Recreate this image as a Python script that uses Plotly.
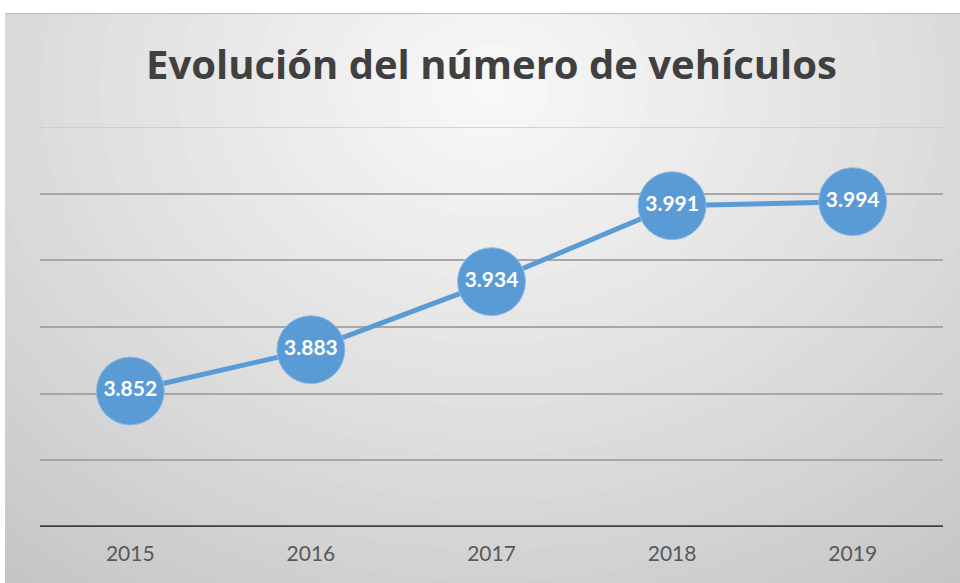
import plotly.graph_objects as go

years = ["2015", "2016", "2017", "2018", "2019"]
vehicles = [3852, 3883, 3934, 3991, 3994]
title_text = "Evolución del número de vehículos"

W, H = 960, 583
L, R, T, B = 40, 17, 127, 56
pw, ph = W - L - R, H - T - B

def px(X):
    return (X - L) / pw

def py(Y):
    return (H - B - Y) / ph

def mix(c1, c2, t):
    return "rgb(%d,%d,%d)" % tuple(round(a + (b - a) * t) for a, b in zip(c1, c2))

shapes = []
shapes.append(dict(type="rect", xref="paper", yref="paper", x0=px(5), x1=px(960), y0=py(583), y1=py(13),
                   fillcolor="rgb(196,196,196)", line=dict(width=0), layer="below"))
cx, cy = 490, 90
outer = (196, 196, 196)
inner = (248, 248, 248)
N = 40
for i in range(N):
    t = i / (N - 1)
    rx = 760 * (1 - t) + 20
    ry = 620 * (1 - t) + 15
    shapes.append(dict(type="circle", xref="paper", yref="paper",
                       x0=px(cx - rx), x1=px(cx + rx), y0=py(cy + ry), y1=py(cy - ry),
                       fillcolor=mix(outer, inner, t ** 0.9), line=dict(width=0), layer="below"))
shapes.append(dict(type="rect", xref="paper", yref="paper", x0=px(-50), x1=px(1010), y0=py(13), y1=py(-200),
                   fillcolor="white", line=dict(width=0), layer="below"))
shapes.append(dict(type="rect", xref="paper", yref="paper", x0=px(-50), x1=px(5), y0=py(700), y1=py(-200),
                   fillcolor="white", line=dict(width=0), layer="below"))
shapes.append(dict(type="line", xref="paper", yref="paper", x0=px(5), x1=px(960), y0=py(13.5), y1=py(13.5),
                   line=dict(color="rgb(185,185,185)", width=1), layer="below"))

y_min, y_max, y_step = 3750, 4050, 50

fig = go.Figure()
fig.add_trace(go.Scatter(
    x=years, y=vehicles, mode="lines+markers+text",
    line=dict(color="#5B9BD5", width=5),
    marker=dict(size=68, color="#5B9BD5", line=dict(color="#8fbbe6", width=1)),
    texttemplate="%{y:,.0f}", textposition="middle center",
    textfont=dict(family="Lato", size=21, color="white", weight="bold"),
    cliponaxis=False, hoverinfo="skip",
))

fig.update_layout(
    width=W, height=H,
    margin=dict(l=L, r=R, t=T, b=B),
    paper_bgcolor="white", plot_bgcolor="rgba(0,0,0,0)",
    separators=",.",
    showlegend=False,
    shapes=shapes,
    title=dict(text=title_text, x=0.5, xref="paper", xanchor="center",
               y=1 - 65 / H, yanchor="middle",
               font=dict(family="Open Sans", size=40, color="#404040", weight="bold")),
    xaxis=dict(range=[-0.5, 4.5], showgrid=False, zeroline=False, showline=False, ticks="",
               tickfont=dict(family="Lato", size=21, color="#595959"), ticklabelstandoff=12),
    yaxis=dict(range=[y_min, y_max], dtick=y_step, tick0=y_min, showgrid=True, gridcolor="#a6a6a6", gridwidth=1.5,
               showticklabels=False, zeroline=False, showline=False, ticks=""),
)
# top gridline (plotly omits the one on the plot edge)
fig.add_shape(type="line", xref="paper", yref="y", x0=0, x1=1, y0=y_max, y1=y_max,
              line=dict(color="#c8c8c8", width=1.5), layer="below")
fig.add_shape(type="line", xref="paper", yref="y", x0=0, x1=1, y0=y_min, y1=y_min,
              line=dict(color="#404040", width=3.5), layer="below")

fig.write_html("out.html", config={"displayModeBar": False},
               post_script="document.body.style.margin='0';document.body.style.overflow='hidden';")
